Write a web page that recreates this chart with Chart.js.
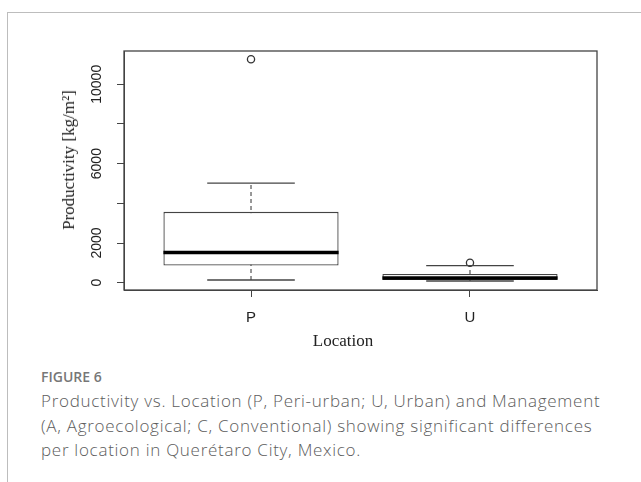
<!DOCTYPE html>
<html>
<head>
<meta charset="utf-8">
<script src="https://cdn.jsdelivr.net/npm/chart.js@4/dist/chart.umd.min.js"></script>
<style>
body { margin: 0; background: #fff; }
#page { position: relative; width: 641px; height: 482px; overflow: hidden; }
#frame { position: absolute; left: 7px; top: 12px; width: 650px; height: 500px; border-top: 1.5px solid #bdbdbd; border-left: 1.5px solid #bdbdbd; }
#wrap { position: absolute; left: 0; top: 0; width: 641px; height: 360px; }
.ytitle { position: absolute; left: 69px; top: 160px; transform: translate(-50%, -50%) rotate(-90deg); font: 17px "Liberation Serif"; color: #222; white-space: nowrap; }
.xtitle { position: absolute; left: 343px; top: 341px; transform: translate(-50%, -50%); font: 17px "Liberation Serif"; color: #222; white-space: nowrap; }
.fig { position: absolute; left: 41px; top: 367px; font: 600 14px "Open Sans"; color: #777; }
.caption { position: absolute; left: 41px; top: 389px; font: 300 17px/24.5px "Open Sans"; letter-spacing: 0.72px; color: #5c5c5c; white-space: nowrap; }
</style>
</head>
<body>
<div id="page">
  <div id="frame"></div>
  <div id="wrap"><canvas id="chart"></canvas></div>
  <div class="ytitle">Productivity [kg/m²]</div>
  <div class="xtitle">Location</div>
  <div class="fig">FIGURE 6</div>
  <div class="caption">Productivity vs. Location (P, Peri-urban; U, Urban) and Management<br>(A, Agroecological; C, Conventional) showing significant differences<br>per location in Querétaro City, Mexico.</div>
</div>
<script>
// box plot values (kg/m2)
var locations = ['P', 'U'];
var lowWhisker = [136, 86];
var lowerQuartile = [865, 136];
var medians = [1520, 237];
var upperQuartile = [3570, 438];
var highWhisker = [5015, 857];
var outliers = [[11260], [1008]];
var yTickValues = [0, 2000, 4000, 6000, 8000, 10000];
var yTickLabels = ['0', '2000', '', '6000', '', '10000'];

var boxWex = 0.8;
var stapleWex = 0.4;

var xs = locations.map(function (l, i) { return i + 1; });

// half a width given in x units, turned into pixels by the x scale
function halfWidth(units) {
    return function (c) {
        var s = c.chart.scales.x;
        return Math.abs(s.getPixelForValue(1 + units / 2) - s.getPixelForValue(1));
    };
}

var datasets = [];
xs.forEach(function (x, i) {
    datasets.push({
        type: 'line',
        data: [{x: x, y: lowWhisker[i]}, {x: x, y: highWhisker[i]}],
        borderColor: '#444',
        borderWidth: 1.1,
        borderDash: [4, 3],
        pointRadius: 0,
        order: 3
    });
});
datasets.push({
    type: 'bar',
    data: xs.map(function (x, i) { return {x: x, y: [lowerQuartile[i], upperQuartile[i]]}; }),
    backgroundColor: '#fff',
    borderColor: '#444',
    borderWidth: 1.3,
    borderSkipped: false,
    barPercentage: boxWex,
    categoryPercentage: 1,
    order: 2
});
datasets.push({
    type: 'scatter',
    data: xs.map(function (x, i) { return {x: x, y: highWhisker[i]}; })
        .concat(xs.map(function (x, i) { return {x: x, y: lowWhisker[i]}; })),
    pointStyle: 'line',
    pointRadius: halfWidth(stapleWex),
    borderColor: '#444',
    borderWidth: 1.3,
    order: 1
});
datasets.push({
    type: 'scatter',
    data: xs.map(function (x, i) { return {x: x, y: medians[i]}; }),
    pointStyle: 'line',
    pointRadius: halfWidth(boxWex),
    borderColor: '#000',
    borderWidth: 3.5,
    order: 1
});
var outPts = [];
xs.forEach(function (x, i) {
    outliers[i].forEach(function (v) { outPts.push({x: x, y: v}); });
});
datasets.push({
    type: 'scatter',
    data: outPts,
    pointStyle: 'circle',
    pointRadius: 3.6,
    borderColor: '#333',
    borderWidth: 1.3,
    backgroundColor: 'rgba(0,0,0,0)',
    order: 1
});

var frameBox = {
    id: 'frameBox',
    afterDatasetsDraw: function (chart) {
        var a = chart.chartArea, ctx = chart.ctx;
        ctx.save();
        ctx.strokeStyle = '#444';
        ctx.lineWidth = 1.3;
        ctx.strokeRect(a.left, a.top, a.right - a.left, a.bottom - a.top);
        ctx.restore();
    }
};

var ctx = document.getElementById('chart').getContext('2d');
var myChart = new Chart(ctx, {
    type: 'bar',
    data: { datasets: datasets },
    plugins: [frameBox],
    options: {
        animation: false,
        responsive: true,
        maintainAspectRatio: false,
        events: [],
        layout: { padding: { top: 51, right: 44, left: 0, bottom: 0 } },
        plugins: { legend: { display: false }, tooltip: { enabled: false } },
        scales: {
            x: {
                type: 'linear',
                min: 0.42,
                max: 2.58,
                offset: false,
                afterBuildTicks: function (axis) {
                    axis.ticks = xs.map(function (v) { return {value: v}; });
                },
                afterFit: function (s) { s.height = 70; },
                ticks: {
                    autoSkip: false,
                    includeBounds: false,
                    padding: 12,
                    color: '#222',
                    font: { family: 'Liberation Sans', size: 15 },
                    callback: function (v) { return locations[v - 1]; }
                },
                grid: { offset: false, drawOnChartArea: false, drawTicks: true, tickLength: 7, color: '#444' },
                border: { display: true, color: '#444' }
            },
            y: {
                min: -368,
                max: 11678,
                afterBuildTicks: function (axis) {
                    axis.ticks = yTickValues.map(function (v) { return {value: v}; });
                },
                afterFit: function (s) { s.width = 124; },
                ticks: {
                    autoSkip: false,
                    includeBounds: false,
                    minRotation: 90,
                    maxRotation: 90,
                    crossAlign: 'center',
                    padding: 0,
                    color: '#222',
                    font: { family: 'Liberation Sans', size: 14 },
                    callback: function (v, i) { return yTickLabels[i]; }
                },
                grid: { drawOnChartArea: false, drawTicks: true, tickLength: 7, color: '#444' },
                border: { display: true, color: '#444' }
            }
        }
    }
});
</script>
</body>
</html>
